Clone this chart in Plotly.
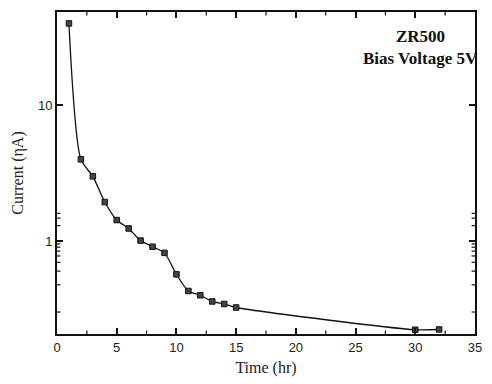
import plotly.graph_objects as go
import math

time_hr = [1, 2, 3, 4, 5, 6, 7, 8, 9, 10, 11, 12, 13, 14, 15, 30, 32]
current_nA = [40, 4.0, 3.0, 1.94, 1.43, 1.24, 1.01, 0.91, 0.82, 0.57, 0.43, 0.40, 0.36, 0.345, 0.325, 0.223, 0.224]

x_ticks = [0, 5, 10, 15, 20, 25, 30, 35]
x_minor = [2.5, 7.5, 12.5, 17.5, 22.5, 27.5, 32.5]
y_ticks = [1, 10]
y_minor = [0.3, 0.4, 0.5, 0.6, 0.7, 0.8, 0.9, 2, 3, 4, 5, 6, 7, 8, 9, 20, 30, 40]

fig = go.Figure()
fig.add_trace(go.Scatter(
    x=time_hr, y=current_nA, mode="lines+markers",
    line=dict(color="#111111", width=1.3, shape="spline", smoothing=0.7),
    marker=dict(symbol="square", size=5.5, color="#444444",
                line=dict(color="#111111", width=1)),
    showlegend=False,
))

axis_font = dict(family="Liberation Sans, Arial, sans-serif", size=13, color="#222222")
title_font = dict(family="Liberation Serif, Times New Roman, serif", size=16, color="#222222")

fig.update_xaxes(
    range=[0, 35], tickvals=x_ticks, ticks="inside", ticklen=6, tickwidth=1.5,
    tickcolor="#111111", showline=True, linecolor="#111111", linewidth=2,
    mirror="allticks", showgrid=False, zeroline=False, tickfont=axis_font,
    title=dict(text="Time (hr)", font=title_font, standoff=8),
)
fig.update_yaxes(
    type="log", range=[-0.683, 1.686], tickvals=y_ticks, ticktext=["1", "10"],
    ticks="inside", ticklen=6, tickwidth=1.5, tickcolor="#111111",
    showline=True, linecolor="#111111", linewidth=2, mirror="allticks",
    showgrid=False, zeroline=False, tickfont=axis_font,
    title=dict(text="Current (ηA)", font=title_font, standoff=10),
)

# minor ticks as short lines on all four sides
L, R, T, B = 57, 10, 12, 48
W, H = 492, 384
pw, ph = W - L - R, H - T - B
mlen = 3.5
tick_line = dict(color="#111111", width=1.2)
for v in x_minor:
    fig.add_shape(type="line", xref="x", yref="paper", x0=v, x1=v, y0=0, y1=mlen / ph, line=tick_line)
    fig.add_shape(type="line", xref="x", yref="paper", x0=v, x1=v, y0=1, y1=1 - mlen / ph, line=tick_line)
for v in y_minor:
    lv = math.log10(v)
    fig.add_shape(type="line", xref="paper", yref="y", x0=0, x1=mlen / pw, y0=lv, y1=lv, line=tick_line)
    fig.add_shape(type="line", xref="paper", yref="y", x0=1, x1=1 - mlen / pw, y0=lv, y1=lv, line=tick_line)

ann_font = dict(family="Liberation Serif, Times New Roman, serif", size=17, color="#111111")
for txt, px, py in [("<b>ZR500</b>", 427, 37), ("<b>Bias Voltage 5V</b>", 427, 59)]:
    fig.add_annotation(x=(px - L) / pw, y=1 - (py - T) / ph, xref="paper", yref="paper",
                       xanchor="center", yanchor="middle", text=txt,
                       showarrow=False, font=ann_font)

fig.update_layout(
    width=W, height=H, margin=dict(l=L, r=R, t=T, b=B),
    paper_bgcolor="white", plot_bgcolor="white",
)

fig.write_html("out.html")
